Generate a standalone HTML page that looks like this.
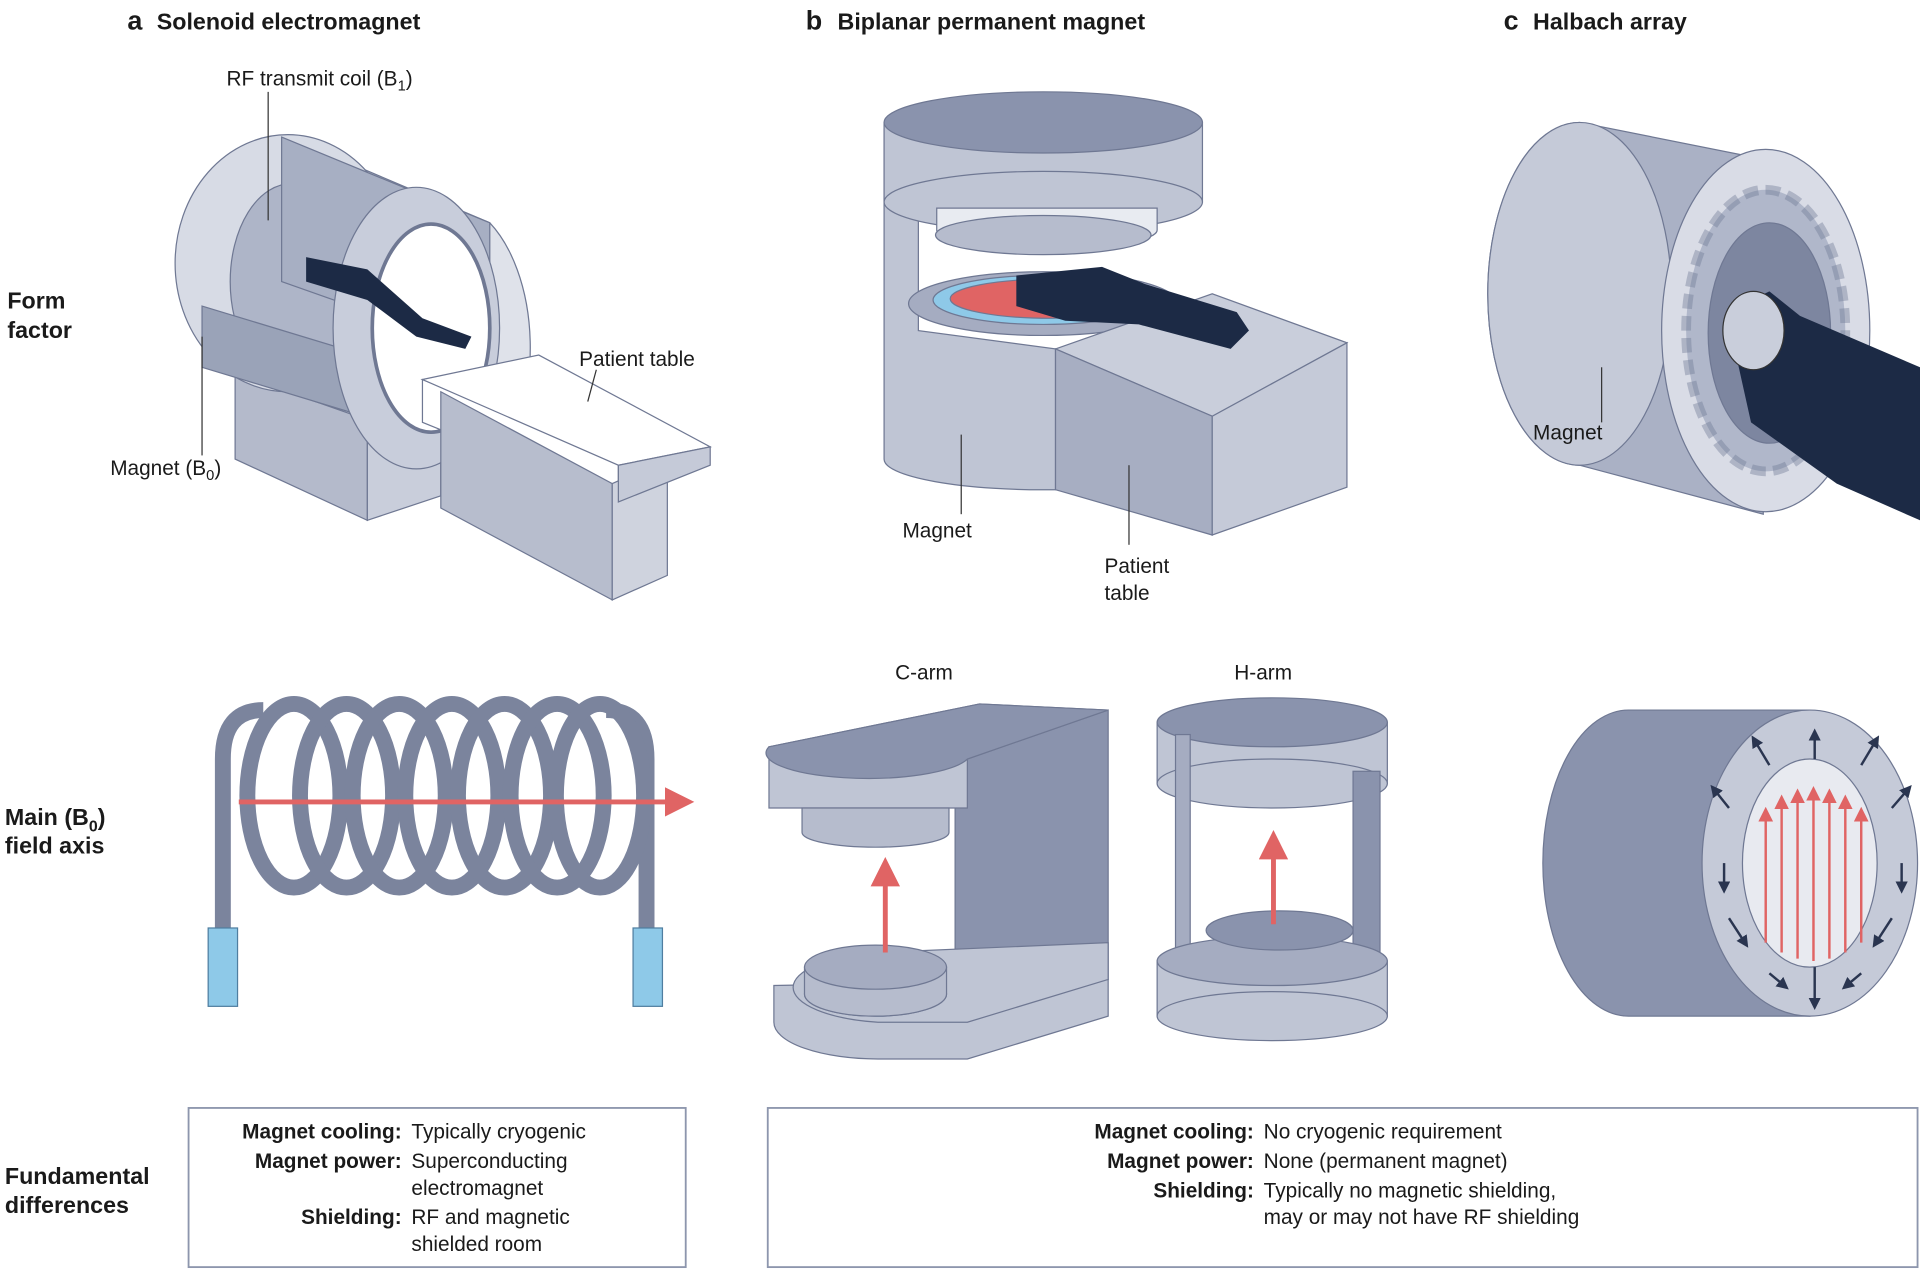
<!DOCTYPE html>
<html><head><meta charset="utf-8"><style>
html,body{margin:0;padding:0;background:#fff}
svg{display:block}
text{font-family:"Liberation Sans",sans-serif;fill:#1a1a1a}
.t{font-weight:bold;font-size:19px}
.l{font-size:17px}
.b{font-weight:bold;font-size:17px}
</style></head><body>
<svg width="1920" height="1272" viewBox="0 0 1568 1039" preserveAspectRatio="none" xmlns="http://www.w3.org/2000/svg">
<defs>
<marker id="ar" markerWidth="6" markerHeight="6" refX="3" refY="3" orient="auto"><path d="M0,0L6,3L0,6z" fill="#e06464"/></marker>
<marker id="an" markerWidth="5" markerHeight="5" refX="2.5" refY="2.5" orient="auto"><path d="M0,0L5,2.5L0,5z" fill="#2a3550"/></marker>
</defs>
<!-- titles -->
<text x="104" y="24" class="t" style="font-size:22px">a</text><text x="128" y="24" class="t">Solenoid electromagnet</text>
<text x="658" y="24" class="t" style="font-size:22px">b</text><text x="684" y="24" class="t">Biplanar permanent magnet</text>
<text x="1228" y="24" class="t" style="font-size:22px">c</text><text x="1252" y="24" class="t">Halbach array</text>
<text x="6" y="252" class="t">Form</text><text x="6" y="276" class="t">factor</text>
<text x="4" y="674" class="t">Main (B<tspan dy="5" font-size="13">0</tspan><tspan dy="-5">)</tspan></text><text x="4" y="697" class="t">field axis</text>
<text x="4" y="967" class="t">Fundamental</text><text x="4" y="991" class="t">differences</text>

<!-- panel a form factor -->
<g stroke="#6f7893" stroke-width="1">
<polygon points="192,290 300,340 300,425 192,375" fill="#b4bacb"/>
<polygon points="300,340 360,320 360,405 300,425" fill="#c9cedb"/>
<path d="M235,112 L400,182 A70,120 0 0 1 405,380 L235,320 Z" fill="#dfe2ea"/>
<ellipse cx="235" cy="215" rx="92" ry="105" fill="#d7dbe5"/>
<ellipse cx="238" cy="230" rx="50" ry="80" fill="#aeb5c8"/>
<polygon points="230,112 400,182 400,290 230,230" fill="#a7afc3"/>
<polygon points="165,250 330,300 330,350 165,300" fill="#9aa3b8"/>
<ellipse cx="340" cy="268" rx="68" ry="115" fill="#c8cddb"/>
<ellipse cx="352" cy="268" rx="48" ry="85" fill="#fff" stroke-width="3"/>
<polygon points="345,310 505,375 505,410 345,345" fill="#fff" stroke="#6f7893"/>
<polygon points="360,320 500,395 500,490 360,415" fill="#b7bdcd"/>
<polygon points="500,395 545,375 545,470 500,490" fill="#cfd3de"/>
<polygon points="345,310 440,290 580,365 505,380" fill="#fff"/>
<polygon points="505,380 580,365 580,380 505,410" fill="#c5cad8"/>
</g>
<path d="M250,210 L300,220 L345,260 L385,275 L380,285 L340,275 L300,245 L250,230Z" fill="#1c2a45"/>
<g stroke="#333" stroke-width="1" fill="none">
<path d="M219,75 V180"/><path d="M165,275 V372"/><path d="M487,302 L480,328"/>
</g>
<text x="185" y="70" class="l">RF transmit coil (B<tspan dy="4" font-size="12">1</tspan><tspan dy="-4">)</tspan></text>
<text x="90" y="388" class="l">Magnet (B<tspan dy="4" font-size="12">0</tspan><tspan dy="-4">)</tspan></text>
<text x="473" y="299" class="l">Patient table</text>

<!-- panel b form factor -->
<g stroke="#6f7893" stroke-width="1">
<path d="M722,105 V375 A130,25 0 0 0 862,400 V285 L750,270 V180 L722,105Z" fill="#bfc5d4"/>
<rect x="722" y="100" width="260" height="65" fill="#bfc5d4"/>
<ellipse cx="852" cy="165" rx="130" ry="25" fill="#bfc5d4"/>
<ellipse cx="852" cy="100" rx="130" ry="25" fill="#8a93ad"/>
<path d="M765,170 V188 A90,15 0 0 0 945,188 V170Z" fill="#e8ebf1"/>
<ellipse cx="852" cy="192" rx="88" ry="16" fill="#b6bccd"/>
<ellipse cx="852" cy="248" rx="110" ry="26" fill="#a5acc1"/>
<ellipse cx="852" cy="245" rx="90" ry="20" fill="#8ec9e8"/>
<ellipse cx="858" cy="244" rx="82" ry="16" fill="#e06464"/>
<polygon points="862,285 990,240 1100,280 990,340 862,285" fill="#c9cedb"/>
<polygon points="862,285 990,340 990,437 862,400" fill="#a7aec2"/>
<polygon points="990,340 1100,280 1100,398 990,437" fill="#c5cad8"/>
</g>
<path d="M830,225 L900,218 L935,232 L1010,255 L1020,270 L1005,285 L930,265 L870,262 L830,250Z" fill="#1c2a45"/>
<g stroke="#333" fill="none"><path d="M785,355 V420"/><path d="M922,380 V445"/></g>
<text x="737" y="439" class="l">Magnet</text>
<text x="902" y="468" class="l">Patient</text><text x="902" y="490" class="l">table</text>

<!-- panel c form factor -->
<g stroke="#6f7893" stroke-width="1">
<path d="M1290,100 L1440,130 L1440,420 L1290,380 A75,140 0 0 1 1290,100Z" fill="#aab1c5"/>
<ellipse cx="1290" cy="240" rx="75" ry="140" fill="#c5cad8"/>
<ellipse cx="1442" cy="270" rx="85" ry="148" fill="#d9dce6"/>
<ellipse cx="1442" cy="270" rx="65" ry="115" fill="#b0b7ca" stroke-dasharray="12 6" stroke-width="8" stroke-opacity=".4"/>
<ellipse cx="1445" cy="272" rx="50" ry="90" fill="#7d86a0"/>
</g>
<path d="M1410,255 L1445,238 L1470,258 L1568,300 L1568,425 L1500,395 L1430,345 L1420,300Z" fill="#1c2a45"/>
<ellipse cx="1432" cy="270" rx="25" ry="32" fill="#c9cedb" stroke="#333"/>
<path d="M1308,300 V345" stroke="#333"/>
<text x="1252" y="359" class="l">Magnet</text>

<!-- coil -->
<g fill="none" stroke="#7b849d" stroke-width="13">
<path d="M182,760 V620 Q182,580 215,580"/>
<path d="M528,760 V620 Q528,580 495,580"/>
<ellipse cx="240" cy="650" rx="38" ry="75"/><ellipse cx="283" cy="650" rx="38" ry="75"/>
<ellipse cx="326" cy="650" rx="38" ry="75"/><ellipse cx="369" cy="650" rx="38" ry="75"/>
<ellipse cx="412" cy="650" rx="38" ry="75"/><ellipse cx="455" cy="650" rx="38" ry="75"/>
<ellipse cx="490" cy="650" rx="36" ry="75"/>
</g>
<rect x="170" y="758" width="24" height="64" fill="#8ec9e8" stroke="#4f7ea0"/>
<rect x="517" y="758" width="24" height="64" fill="#8ec9e8" stroke="#4f7ea0"/>
<path d="M195,655 H555" stroke="#e06464" stroke-width="4" marker-end="url(#ar)"/>

<!-- C-arm -->
<text x="731" y="555" class="l">C-arm</text>
<g stroke="#6f7893">
<polygon points="780,620 905,580 905,800 780,840" fill="#8a93ad"/>
<path d="M632,805 V835 A85,30 0 0 0 717,865 H790 L905,830 V800 Z" fill="#bfc5d4"/>
<path d="M717,778 L905,770 V800 L790,835 H717 A85,29 0 0 1 717,778Z" fill="#bfc5d4"/>
<ellipse cx="715" cy="812" rx="58" ry="18" fill="#b6bccd"/>
<path d="M657,790 V812 A58,18 0 0 0 773,812 V790Z" fill="#b6bccd"/>
<ellipse cx="715" cy="790" rx="58" ry="18" fill="#a5acc1"/>
<path d="M628,610 L800,575 L905,580 L790,620 V660 H628Z" fill="#bfc5d4"/>
<path d="M628,610 L800,575 L905,580 L790,620 A80,20 0 0 1 628,610Z" fill="#8a93ad"/>
<path d="M655,660 V680 A60,12 0 0 0 775,680 V660Z" fill="#b6bccd"/>
</g>
<path d="M723,778 V712" stroke="#e06464" stroke-width="4" marker-end="url(#ar)"/>

<!-- H-arm -->
<text x="1008" y="555" class="l">H-arm</text>
<g stroke="#6f7893">
<rect x="945" y="590" width="188" height="50" fill="#bfc5d4"/>
<ellipse cx="1039" cy="640" rx="94" ry="20" fill="#bfc5d4"/>
<ellipse cx="1039" cy="590" rx="94" ry="20" fill="#8a93ad"/>
<rect x="960" y="600" width="12" height="240" fill="#a5acc1"/>
<rect x="1105" y="630" width="22" height="150" fill="#8a93ad"/>
<rect x="945" y="785" width="188" height="45" fill="#bfc5d4"/>
<ellipse cx="1039" cy="830" rx="94" ry="20" fill="#bfc5d4"/>
<ellipse cx="1039" cy="785" rx="94" ry="20" fill="#a5acc1"/>
<ellipse cx="1045" cy="760" rx="60" ry="16" fill="#8a93ad"/>
</g>
<path d="M1040,755 V690" stroke="#e06464" stroke-width="4" marker-end="url(#ar)"/>

<!-- Halbach bottom -->
<g stroke="#6f7893">
<path d="M1330,580 H1478 V830 H1330 A70,125 0 0 1 1330,580Z" fill="#8a93ad"/>
<ellipse cx="1478" cy="705" rx="88" ry="125" fill="#c5cad8"/>
<ellipse cx="1478" cy="705" rx="55" ry="85" fill="#e8eaf0"/>
</g>
<g stroke="#e06464" stroke-width="2" marker-end="url(#ar)">
<path d="M1442,770 V665"/><path d="M1455,778 V655"/><path d="M1468,783 V650"/><path d="M1481,785 V648"/><path d="M1494,783 V650"/><path d="M1507,778 V655"/><path d="M1520,770 V665"/>
</g>
<g stroke="#2a3550" stroke-width="2" marker-end="url(#an)">
<path d="M1482,620 V600"/><path d="M1482,790 V820"/>
<path d="M1520,625 L1532,605"/><path d="M1445,625 L1433,605"/>
<path d="M1545,660 L1558,645"/><path d="M1412,660 L1400,645"/>
<path d="M1553,705 V725"/><path d="M1408,705 V725"/>
<path d="M1545,750 L1532,770"/><path d="M1412,750 L1425,770"/>
<path d="M1520,795 L1508,805"/><path d="M1445,795 L1457,805"/>
</g>

<!-- boxes -->
<rect x="154" y="905" width="406" height="130" fill="none" stroke="#8d96ad" stroke-width="1.5"/>
<rect x="627" y="905" width="939" height="130" fill="none" stroke="#8d96ad" stroke-width="1.5"/>
<g class="l">
<text x="328" y="930" text-anchor="end" class="b">Magnet cooling:</text><text x="336" y="930" class="l">Typically cryogenic</text>
<text x="328" y="954" text-anchor="end" class="b">Magnet power:</text><text x="336" y="954" class="l">Superconducting</text>
<text x="336" y="976" class="l">electromagnet</text>
<text x="328" y="1000" text-anchor="end" class="b">Shielding:</text><text x="336" y="1000" class="l">RF and magnetic</text>
<text x="336" y="1022" class="l">shielded room</text>
<text x="1024" y="930" text-anchor="end" class="b">Magnet cooling:</text><text x="1032" y="930" class="l">No cryogenic requirement</text>
<text x="1024" y="954" text-anchor="end" class="b">Magnet power:</text><text x="1032" y="954" class="l">None (permanent magnet)</text>
<text x="1024" y="978" text-anchor="end" class="b">Shielding:</text><text x="1032" y="978" class="l">Typically no magnetic shielding,</text>
<text x="1032" y="1000" class="l">may or may not have RF shielding</text>
</g>
</svg>
</body></html>
